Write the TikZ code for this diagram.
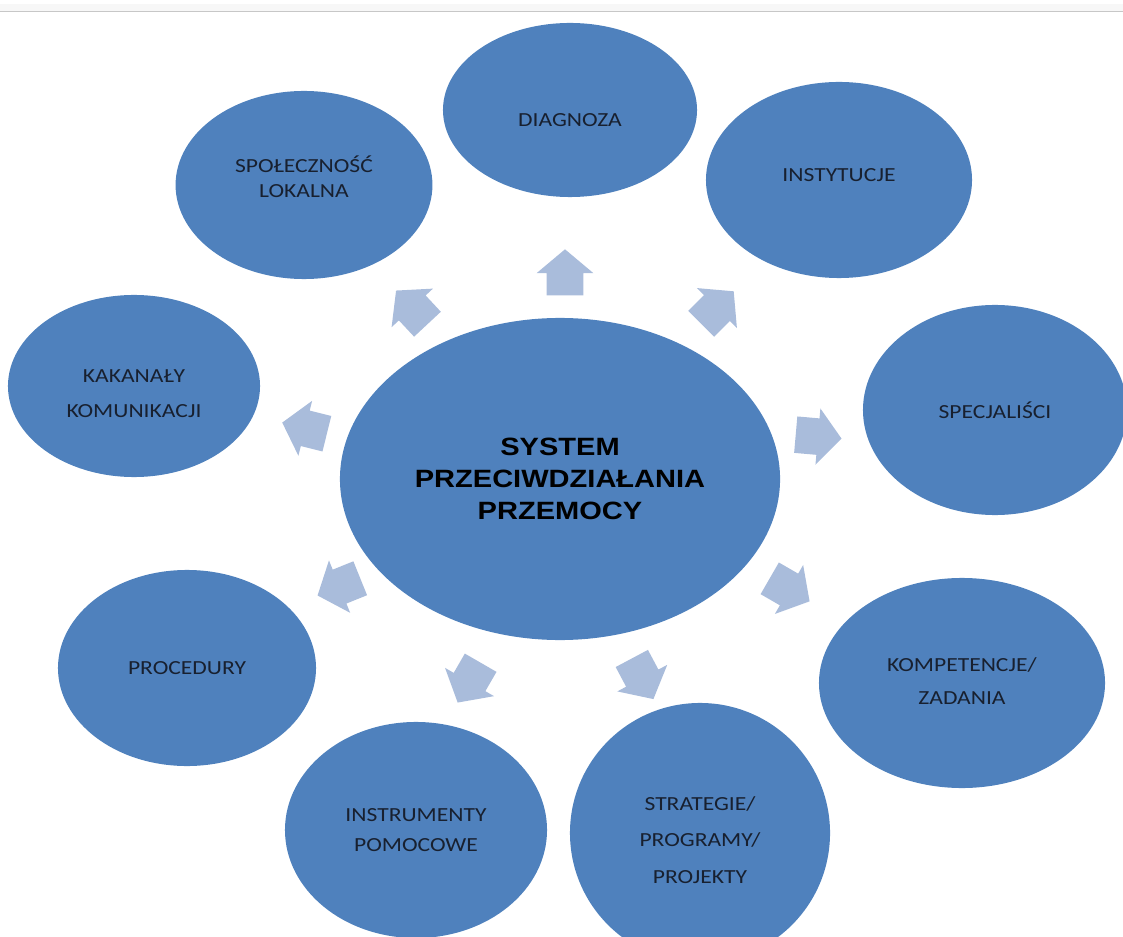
\documentclass[tikz,border=0pt]{standalone}
\usepackage{fontspec}
\usepackage{tikz}
\usetikzlibrary{shapes.geometric,shapes.arrows,calc}
\setmainfont{Carlito}[FakeStretch=1.18]
\newfontfamily\centerfont{Liberation Sans}[FakeStretch=1.16]
\definecolor{blobblue}{HTML}{4F81BD}
\definecolor{arrowblue}{HTML}{A9BCDB}
\definecolor{labelink}{HTML}{18202F}
\tikzset{blob/.style={ellipse, fill=blobblue, inner sep=0pt}}
\tikzset{txt/.style={align=center, text=labelink, font=\fontsize{14.2}{18}\selectfont}}
\tikzset{blk/.style={single arrow, fill=arrowblue, inner xsep=0pt, inner ysep=0.45cm,
  minimum height=1.15cm, single arrow head extend=0.25cm, single arrow tip angle=100}}

\begin{document}
\begin{tikzpicture}[x=0.025cm, y=-0.025cm]
  \useasboundingbox (0,0) rectangle (1123,937);
  % browser strip on top
  \fill[black!3] (0,4) rectangle (1123,11);
  \draw[black!22, line width=0.6pt] (0,11) -- (1123,11);

  % middle
  \node[blob, minimum width=11cm, minimum height=8.05cm, align=center,
    font=\centerfont\bfseries\fontsize{17.8}{22.8}\selectfont] (sys) at (560,479)
    {SYSTEM\\PRZECIWDZIAŁANIA\\PRZEMOCY};

  % outer ring
  \node[blob, minimum width=6.35cm, minimum height=4.35cm] (diag) at (570,110) {};
  \node[blob, minimum width=6.65cm, minimum height=4.9cm] (inst) at (839,180) {};
  \node[blob, minimum width=6.6cm, minimum height=5.25cm] (spec) at (995,410) {};
  \node[blob, minimum width=7.15cm, minimum height=5.25cm] (komp) at (962,683) {};
  \node[blob, minimum width=6.5cm, minimum height=6.5cm] (strat) at (700,833) {};
  \node[blob, minimum width=6.55cm, minimum height=5.4cm] (instr) at (416,830) {};
  \node[blob, minimum width=6.45cm, minimum height=4.9cm] (proc) at (187,668) {};
  \node[blob, minimum width=6.3cm, minimum height=4.55cm] (kan) at (134,386) {};
  \node[blob, minimum width=6.42cm, minimum height=4.7cm] (spol) at (304,185) {};

  % labels
  \node[txt] (diagt) at ($(diag)+(0,10)$) {DIAGNOZA};
  \node[txt] (instt) at ($(inst)+(0,-5)$) {INSTYTUCJE};
  \node[txt] (spect) at (spec) {SPECJALIŚCI};
  \node[txt] (kompt) at ($(komp)+(0,-2)$) {KOMPETENCJE/\\[5pt]ZADANIA};
  \node[txt] (stratt) at ($(strat)+(0,7)$) {STRATEGIE/\\[8pt]PROGRAMY/\\[8pt]PROJEKTY};
  \node[txt] (instrt) at (instr) {INSTRUMENTY\\[3pt]POMOCOWE};
  \node[txt] (proct) at (proc) {PROCEDURY};
  \node[txt] (kant) at ($(kan)+(0,8)$) {KAKANAŁY\\[7pt]KOMUNIKACJI};
  \node[txt] (spolt) at ($(spol)+(0,-8)$) {SPOŁECZNOŚĆ\\LOKALNA};

  % block arrows
  \node[blk, rotate=90] (a1) at (565,280) {};
  \node[blk, rotate=45] (a2) at (712,313) {};
  \node[blk, rotate=-5] (a3) at (811,436) {};
  \node[blk, rotate=-30] (a4) at (783,586) {};
  \node[blk, rotate=-62] (a5) at (639,672) {};
  \node[blk, rotate=240] (a6) at (473,676) {};
  \node[blk, rotate=202] (a7) at (346,584) {};
  \node[blk, rotate=166] (a8) at (312,430) {};
  \node[blk, rotate=133] (a9) at (417,313) {};

\end{tikzpicture}
\end{document}
